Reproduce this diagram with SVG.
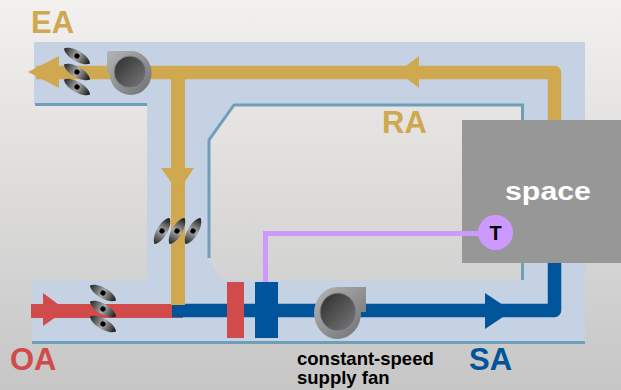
<svg xmlns="http://www.w3.org/2000/svg" width="621" height="390" viewBox="0 0 621 390">
<style>
.lbl{font-family:"Liberation Sans",Arial,sans-serif;font-weight:700}
.big{font-size:31px}
.ea{fill:#cfa84f}.oa{fill:#d24b4b}.sa{fill:#00549a}
.rim{fill:url(#rim)}.core{fill:url(#core);stroke:#7f8a9a;stroke-width:1}
.pin{fill:#000}
.wall{fill:none;stroke:#6f9fb8;stroke-width:3}
</style>
<defs>
<linearGradient id="bg" gradientUnits="userSpaceOnUse" x1="0" y1="0" x2="0" y2="390"><stop offset="0" stop-color="#f3f1ef"/><stop offset="1" stop-color="#c6c6c6"/></linearGradient>
<linearGradient id="rim" x1="0" y1="0" x2="1" y2="1"><stop offset="0" stop-color="#b5b5b5"/><stop offset="1" stop-color="#6f6f6f"/></linearGradient>
<linearGradient id="core" x1="0" y1="0" x2="1" y2="1"><stop offset="0" stop-color="#2c2c2c"/><stop offset="1" stop-color="#7a7a7a"/></linearGradient>
<linearGradient id="blade" x1="0" y1="0" x2="1" y2="0"><stop offset="0" stop-color="#222"/><stop offset="0.5" stop-color="#aaa"/><stop offset="1" stop-color="#111"/></linearGradient>
<g id="damper"><path d="M-15 0C-10 -7 10 -7 15 0C10 7 -10 7 -15 0Z" fill="url(#blade)"/><circle r="2.600" class="pin"/></g>
</defs>
<rect width="621" height="390" fill="url(#bg)"/>
<g id="duct">
<path fill="#c5d2e4" d="M34 42H585V342H32V280H147V104H34Z"/>
<path fill="url(#bg)" d="M209 140L234 105H521V280H221L209 258Z"/>
<path class="wall" d="M35 104.500H147"/>
<path class="wall" d="M209 258V140L234 105H522.500V280"/>
<path class="wall" d="M32 342.500H585"/>
</g>
<g id="connectors">
<path fill="none" stroke="#d24b4b" stroke-width="14" d="M31 311H183"/>
<path fill="none" stroke="#00549a" stroke-width="13.500" stroke-linejoin="round" d="M172 310.500H554.500V262"/>
<path fill="none" stroke="#cfa84f" stroke-width="13.500" stroke-linejoin="round" d="M36 72.500H554.500V121"/>
<path fill="none" stroke="#cfa84f" stroke-width="14" d="M178 72V305"/>
<path class="ea" d="M28 72L59 56V88Z"/>
<path class="ea" d="M398 72L419 56V88Z"/>
<path class="ea" d="M161 168H194L178 192Z"/>
<path class="oa" d="M43 293L66 310L43 326Z"/>
<path class="sa" d="M485 293L512 311L485 329Z"/>
</g>
<g id="space"><rect x="462" y="120" width="159" height="143" fill="#979797"/>
<text class="lbl" x="505" y="200" font-size="26" fill="#fff" textLength="86" lengthAdjust="spacingAndGlyphs">space</text></g>
<path id="control-line" fill="none" stroke="#cc99ff" stroke-width="5" d="M265.500 282V233.500H480"/>
<g id="sensor"><circle cx="495.500" cy="232.500" r="17.500" fill="#cc99ff"/>
<text class="lbl" x="495.500" y="240" font-size="20" fill="#000" text-anchor="middle">T</text></g>
<g id="ea-damper">
<use href="#damper" transform="translate(77,56) rotate(30)"/>
<use href="#damper" transform="translate(77,72) rotate(30)"/>
<use href="#damper" transform="translate(77,87) rotate(30)"/>
</g>
<g id="ra-damper">
<use href="#damper" transform="translate(162,231) rotate(-60)"/>
<use href="#damper" transform="translate(177,231) rotate(-60)"/>
<use href="#damper" transform="translate(193,231) rotate(-60)"/>
</g>
<g id="oa-damper">
<use href="#damper" transform="translate(103,293) rotate(30)"/>
<use href="#damper" transform="translate(103,309) rotate(30)"/>
<use href="#damper" transform="translate(103,324) rotate(30)"/>
</g>
<g id="exhaust-fan">
<path class="rim" d="M107 51H130A21 22 0 1 1 111 81L109 72H107Z"/>
<circle class="core" cx="130" cy="72" r="16"/>
</g>
<g id="supply-fan">
<path class="rim" d="M366 287V312H361A23.500 26 0 1 1 338 287Z"/>
<ellipse class="core" cx="338" cy="312" rx="18" ry="19"/>
</g>
<g id="relief-coil"><rect x="227" y="282" width="17" height="56" class="oa"/></g>
<g id="cooling-coil"><rect x="255" y="282" width="23" height="56" class="sa"/></g>
<g id="labels">
<text class="lbl big ea" x="31" y="33">EA</text>
<text class="lbl big ea" x="382" y="133">RA</text>
<text class="lbl big oa" x="10" y="370">OA</text>
<text class="lbl big sa" x="469" y="370">SA</text>
<text class="lbl" x="297" y="365" font-size="18.500" fill="#000">constant-speed</text>
<text class="lbl" x="297" y="384" font-size="18.500" fill="#000">supply fan</text>
</g>
</svg>
